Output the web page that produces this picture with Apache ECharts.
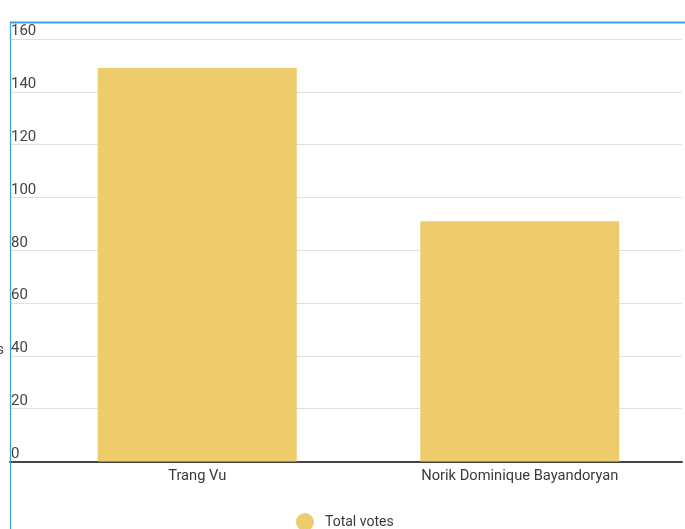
<!DOCTYPE html>
<html>
<head>
<meta charset="utf-8">
<script src="https://cdn.jsdelivr.net/npm/echarts@6/dist/echarts.min.js"></script>
<style>html,body{margin:0;padding:0;background:#fff;}#c{width:685px;height:529px;}</style>
</head>
<body>
<div id="c"></div>
<script>
const categories = ['Trang Vu', 'Norik Dominique Bayandoryan'];
const totalVotes = [149, 91];
const seriesName = 'Total votes';
const yMin = 0, yMax = 160, yStep = 20;

const chart = echarts.init(document.getElementById('c'), null, {renderer: 'canvas'});
const font = 'Roboto, "Noto Sans", sans-serif';
chart.setOption({
  animation: false,
  backgroundColor: '#ffffff',
  textStyle: {fontFamily: font},
  grid: [
    {left: 10, right: 3, top: 39, height: 422.5},
    {left: 36, right: 4, top: 39, height: 422.5}
  ],
  xAxis: [
    {gridIndex: 0, type: 'category', data: [''],
     axisLine: {show: true, lineStyle: {color: '#444444', width: 2}},
     axisTick: {show: false}, axisLabel: {show: false}, splitLine: {show: false}},
    {gridIndex: 1, type: 'category', data: categories,
     axisLine: {show: false}, axisTick: {show: false},
     axisLabel: {color: '#3a3a3a', fontSize: 14.7, margin: 7, fontFamily: font}}
  ],
  yAxis: [
    {gridIndex: 0, type: 'value', min: yMin, max: yMax, interval: yStep,
     axisLine: {show: false}, axisTick: {show: false},
     splitLine: {lineStyle: {color: '#e0e0e0', width: 1}},
     axisLabel: {inside: true, margin: 1, verticalAlign: 'bottom', align: 'left',
                 color: '#444444', fontSize: 15, fontFamily: font}},
    {gridIndex: 1, type: 'value', min: yMin, max: yMax, interval: yStep, show: false}
  ],
  legend: {
    data: [seriesName], left: 296, top: 513, icon: 'circle', padding: 0,
    itemWidth: 18, itemHeight: 18,
    textStyle: {color: '#3a3a3a', fontSize: 14, fontFamily: font, padding: [0, 0, 0, 6]}
  },
  series: [{
    name: seriesName, type: 'bar', xAxisIndex: 1, yAxisIndex: 1,
    data: totalVotes, barWidth: 199,
    itemStyle: {color: '#eecb6b'}
  }],
  graphic: [
    {type: 'line', z: 100, shape: {x1: 10.5, y1: 22, x2: 10.5, y2: 529},
     style: {stroke: '#3d9fe0', lineWidth: 1.2}},
    {type: 'line', z: 100, shape: {x1: 10, y1: 22.5, x2: 685, y2: 22.5},
     style: {stroke: '#3d9fe0', lineWidth: 1.8}},
    {type: 'text', z: 100, style: {text: 'Votes', x: 4, y: 350, align: 'right', verticalAlign: 'middle',
      fill: '#444444', font: '15px ' + font}}
  ]
});
</script>
</body>
</html>
